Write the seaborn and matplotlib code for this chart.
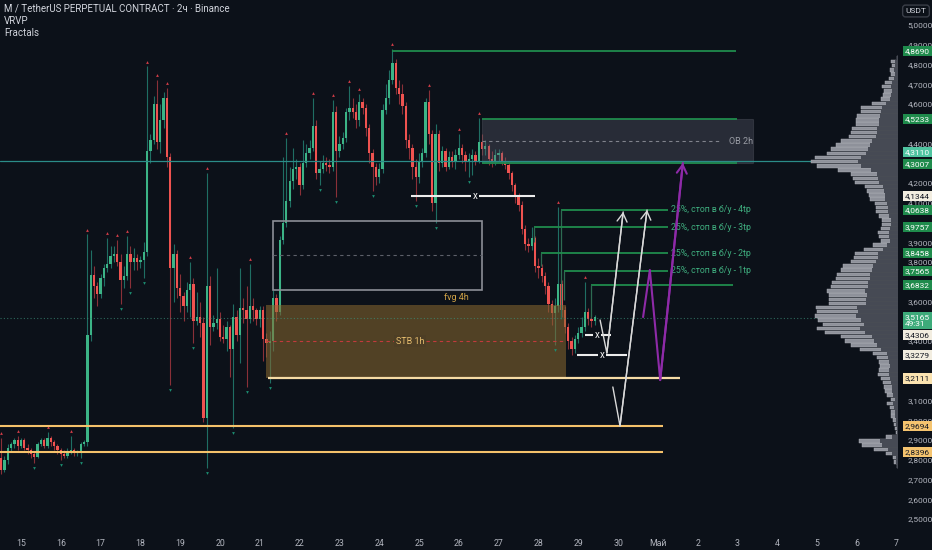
import numpy as np
import pandas as pd
import matplotlib
matplotlib.use("Agg")
import matplotlib.pyplot as plt
import matplotlib.transforms as mtransforms
from matplotlib.patches import Rectangle
import seaborn as sns

# ---- candles (2h bars, Apr 14 12:00 -> Apr 29 10:00) ----
start_day = 14.5
bars_per_day = 12
first_open = 2.81
closes = [2.75, 2.80, 2.86, 2.88, 2.90, 2.87, 2.90, 2.86, 2.85, 2.83, 2.815, 2.88,
          2.90, 2.87, 2.91, 2.89, 2.87, 2.85, 2.83, 2.82, 2.84, 2.85, 2.84, 2.84,
          2.88, 2.89, 3.43, 3.735, 3.68, 3.64, 3.72, 3.77, 3.79, 3.83, 3.84, 3.80,
          3.71, 3.73, 3.84, 3.80, 3.82, 3.80, 3.81, 3.85, 4.36, 4.42, 4.60, 4.41,
          4.52, 4.63, 4.33, 3.77, 3.84, 3.67, 3.63, 3.58, 3.66, 3.69, 3.50, 3.52,
          3.49, 3.01, 3.68, 3.47, 3.49, 3.51, 3.42, 3.41, 3.47, 3.36, 3.52, 3.43,
          3.57, 3.56, 3.51, 3.58, 3.56, 3.51, 3.56, 3.41, 3.39, 3.40, 3.62, 3.55,
          3.91, 4.00, 4.11, 4.21, 4.27, 4.28, 4.19, 4.30, 4.35, 4.38, 4.49, 4.25,
          4.27, 4.30, 4.29, 4.28, 4.56, 4.36, 4.40, 4.43, 4.56, 4.58, 4.56, 4.52,
          4.61, 4.58, 4.48, 4.35, 4.28, 4.23, 4.27, 4.57, 4.63, 4.72, 4.81, 4.68,
          4.65, 4.59, 4.42, 4.38, 4.28, 4.23, 4.31, 4.35, 4.61, 4.45, 4.10, 4.45,
          4.30, 4.36, 4.28, 4.33, 4.31, 4.34, 4.38, 4.34, 4.31, 4.32, 4.34, 4.31,
          4.41, 4.37, 4.39, 4.32, 4.31, 4.34, 4.35, 4.31, 4.29, 4.25, 4.19, 4.13,
          4.09, 3.97, 3.89, 3.88, 3.92, 3.78, 3.77, 3.73, 3.68, 3.59, 3.54, 3.58,
          3.69, 3.56, 3.47, 3.40, 3.36, 3.41, 3.44, 3.47, 3.55, 3.51, 3.50, 3.52]
highs = [2.91, 2.82, 2.88, 2.89, 2.91, 2.92, 2.91, 2.91, 2.88, 2.86, 2.84, 2.89,
         2.91, 2.91, 2.94, 2.92, 2.90, 2.88, 2.86, 2.85, 2.86, 2.92, 2.86, 2.85,
         2.89, 2.90, 3.94, 3.86, 3.78, 3.70, 3.74, 3.79, 3.92, 3.88, 3.88, 3.91,
         3.84, 3.78, 3.93, 3.88, 3.87, 3.84, 3.83, 3.90, 4.79, 4.45, 4.64, 4.72,
         4.60, 4.66, 4.68, 4.35, 3.89, 3.86, 3.74, 3.65, 3.70, 3.80, 3.72, 3.65,
         3.60, 3.52, 4.25, 3.73, 3.53, 3.77, 3.55, 3.48, 3.50, 3.48, 3.59, 3.56,
         3.77, 3.62, 3.68, 3.79, 3.62, 3.57, 3.58, 3.58, 3.44, 3.45, 3.66, 3.64,
         3.93, 4.33, 4.43, 4.28, 4.38, 4.32, 4.30, 4.42, 4.40, 4.42, 4.63, 4.52,
         4.31, 4.34, 4.33, 4.32, 4.62, 4.59, 4.44, 4.46, 4.58, 4.69, 4.63, 4.60,
         4.65, 4.63, 4.60, 4.50, 4.37, 4.30, 4.30, 4.60, 4.70, 4.77, 4.88, 4.83,
         4.72, 4.70, 4.61, 4.45, 4.40, 4.32, 4.35, 4.38, 4.63, 4.67, 4.47, 4.50,
         4.47, 4.39, 4.38, 4.36, 4.36, 4.37, 4.45, 4.40, 4.36, 4.35, 4.37, 4.36,
         4.53, 4.45, 4.42, 4.40, 4.36, 4.37, 4.37, 4.36, 4.33, 4.30, 4.26, 4.20,
         4.15, 4.11, 3.99, 3.92, 3.98, 3.93, 3.82, 3.79, 3.75, 3.70, 3.61, 3.62,
         4.08, 3.71, 3.58, 3.49, 3.42, 3.43, 3.47, 3.52, 3.70, 3.57, 3.54, 3.53]
lows = [2.73, 2.74, 2.78, 2.84, 2.86, 2.85, 2.86, 2.85, 2.83, 2.81, 2.785, 2.81,
        2.87, 2.86, 2.86, 2.87, 2.85, 2.83, 2.80, 2.81, 2.81, 2.83, 2.82, 2.82,
        2.81, 2.87, 2.87, 3.40, 3.62, 3.58, 3.62, 3.68, 3.75, 3.77, 3.80, 3.78,
        3.59, 3.67, 3.71, 3.67, 3.76, 3.76, 3.77, 3.72, 3.83, 4.30, 4.40, 4.37,
        4.35, 4.48, 4.28, 3.18, 3.60, 3.62, 3.55, 3.50, 3.55, 3.52, 3.39, 3.48,
        3.42, 2.99, 2.76, 3.38, 3.45, 3.46, 3.40, 3.39, 3.35, 3.22, 2.96, 3.40,
        3.29, 3.49, 3.17, 3.49, 3.50, 3.48, 3.47, 3.30, 3.32, 3.19, 3.35, 3.50,
        3.53, 3.89, 3.98, 4.08, 4.17, 4.22, 4.14, 4.17, 4.28, 4.32, 4.36, 4.22,
        4.19, 4.25, 4.26, 4.25, 4.26, 4.13, 4.33, 4.37, 4.41, 4.52, 4.53, 4.48,
        4.49, 4.55, 4.44, 4.30, 4.16, 4.19, 4.20, 4.25, 4.55, 4.60, 4.70, 4.65,
        4.60, 4.55, 4.38, 4.32, 4.22, 4.11, 4.20, 4.28, 4.33, 4.40, 4.06, 4.00,
        4.26, 4.28, 4.26, 4.27, 4.28, 4.27, 4.32, 4.30, 4.26, 4.23, 4.24, 4.29,
        4.30, 4.34, 4.34, 4.29, 4.28, 4.29, 4.31, 4.29, 4.27, 4.22, 4.16, 4.10,
        4.06, 3.94, 3.86, 3.85, 3.86, 3.75, 3.72, 3.70, 3.64, 3.55, 3.48, 3.38,
        3.55, 3.52, 3.44, 3.36, 3.33, 3.34, 3.39, 3.42, 3.45, 3.48, 3.47, 3.48]
fractal_up = [0, 5, 14, 21, 26, 32, 35, 38, 44, 47, 50, 57, 62, 75, 86, 94, 100,
              105, 108, 118, 129, 138, 144, 168, 176]
fractal_down = [10, 18, 24, 36, 39, 43, 51, 58, 62, 70, 74, 81, 96, 101, 112,
                125, 131, 141, 167]

# ---- volume profile (VRVP), rows from bottom to top ----
vp_bottom = 2.768
vp_step = 0.0211
vp_total = [1, 4, 5, 12, 24, 36, 39, 12, 2, 3,
            4, 5, 7, 7, 8, 11, 7, 11, 13, 14,
            15, 17, 20, 19, 18, 19, 21, 25, 38, 47,
            53, 57, 73, 81, 75, 80, 83, 81, 82, 69,
            69, 69, 71, 67, 66, 62, 61, 57, 55, 47,
            44, 43, 34, 25, 17, 19, 20, 17, 16, 16,
            19, 22, 22, 23, 28, 29, 31, 33, 43, 45,
            47, 60, 81, 87, 83, 71, 67, 62, 57, 49,
            47, 46, 42, 42, 41, 37, 37, 26, 17, 15,
            14, 16, 13, 9, 7, 8, 6, 7, 1]
vp_down = [1, 2, 2, 6, 10, 16, 18, 6, 1, 1,
           2, 2, 3, 3, 4, 5, 3, 5, 6, 6,
           7, 8, 9, 9, 8, 9, 10, 11, 17, 21,
           24, 26, 33, 38, 34, 37, 42, 40, 41, 32,
           32, 31, 33, 30, 30, 28, 28, 26, 25, 22,
           20, 20, 15, 11, 8, 9, 9, 8, 7, 7,
           9, 10, 10, 11, 13, 13, 14, 15, 19, 20,
           21, 27, 37, 40, 37, 32, 30, 28, 26, 22,
           21, 21, 19, 19, 18, 17, 16, 12, 8, 7,
           6, 7, 6, 4, 3, 4, 3, 3, 1]

# ---- drawings ----
tp_prices = [4.0638, 3.9757, 3.8458, 3.7565]
tp_start = [28.57, 27.89, 28.07, 28.64]
tp_stem_low = [3.51, 3.90, 3.78, 3.61]
tp_names = ["4tp", "3tp", "2tp", "1tp"]
tp_end = 31.26

white1_days = [29.55, 29.72, 30.13]
white1_prices = [3.507, 3.340, 4.054]
white2_days = [29.87, 30.05, 30.73]
white2_prices = [3.168, 2.971, 4.064]
purple_days = [30.63, 30.80, 31.06, 31.63]
purple_prices = [3.522, 3.760, 3.203, 4.302]

axis_labels = [(4.8690, "4,8690", "g"), (4.5233, "4,5233", "g"), (4.3570, "4,3110", "t"),
               (4.2970, "4,3007", "g"), (4.1344, "4,1344", "c"), (4.0638, "4,0638", "g"),
               (3.9757, "3,9757", "g"), (3.8458, "3,8458", "g"), (3.7565, "3,7565", "g"),
               (3.6832, "3,6832", "g"), (3.5050, "3,5165\n49:31", "p"), (3.4306, "3,4306", "c"),
               (3.3279, "3,3279", "c"), (3.2111, "3,2111", "o1"), (2.9694, "2,9694", "o2"),
               (2.8396, "2,8396", "o2")]

bg = "#0c1119"
up_col, dn_col = "#3cb486", "#ef5350"
up_wick, dn_wick = "#1f6e63", "#8a3038"
line_green = "#1f8b4c"
grey_txt = "#b2b5be"

sns.set_theme(style="dark", rc={"axes.facecolor": bg, "figure.facecolor": bg})
plt.rcParams["font.family"] = ["Roboto", "DejaVu Sans"]

df = pd.DataFrame({"close": closes, "high": highs, "low": lows})
df["open"] = [first_open] + closes[:-1]
df["day"] = start_day + np.arange(len(df)) / bars_per_day
rising = df["close"] >= df["open"]

fig = plt.figure(figsize=(9.32, 5.5), dpi=100)
ax = fig.add_axes([0, 0.04, 898 / 932, 0.96])
ax.set_xlim(14.472, 37.035)
ax.set_ylim(2.4544, 5.1265)
for s in ax.spines.values():
    s.set_visible(False)
ax.grid(False)

# volume profile on the right side
vp = ax.inset_axes([0.8886, 0, 0.1114, 1])
vp.set_xlim(100, 0)
vp.set_ylim(ax.get_ylim())
vp.axis("off")
vp.patch.set_alpha(0)
vp_prices = vp_bottom + vp_step * np.arange(len(vp_total))
vp.barh(vp_prices, vp_total, height=vp_step * 0.82, color="#8e919a", edgecolor="#b0b3ba", linewidth=0.3)
vp.barh(vp_prices, vp_down, height=vp_step * 0.82, color="#464a54", linewidth=0)

# candles
ax.vlines(df["day"], df["low"], df["high"], colors=np.where(rising, up_wick, dn_wick), linewidth=0.8, zorder=2)
body = (df["close"] - df["open"]).abs().clip(lower=0.006)
ax.bar(df["day"], body, bottom=df[["open", "close"]].min(axis=1), width=0.058,
       color=np.where(rising, up_col, dn_col), linewidth=0, zorder=2.2)

# fractals
fu = df.loc[fractal_up]
fd = df.loc[fractal_down]
sns.scatterplot(x=fu["day"], y=fu["high"] + 0.025, marker="^", s=4, color="#d43d48", linewidth=0, ax=ax, zorder=4)
sns.scatterplot(x=fd["day"], y=fd["low"] - 0.025, marker="v", s=4, color="#1c8f72", linewidth=0, ax=ax, zorder=4)

# full width lines
ax.axhline(4.3110, color="#2b8c88", lw=0.9, zorder=5)
ax.axhline(3.5165, color="#3a8f78", lw=0.8, ls=(0, (1, 2)), alpha=0.7, zorder=5)

# fvg 4h
ax.add_patch(Rectangle((21.33, 3.659), 26.58 - 21.33, 4.008 - 3.659, fill=False, ec="#8c8f96", lw=1.2, zorder=3))
ax.hlines(3.834, 21.33, 26.58, colors="#5d6069", lw=0.8, linestyles=(0, (3, 3)), zorder=3)
ax.text(25.95, 3.62, "fvg 4h", color="#d2a447", fontsize=6.5, ha="center", va="center", zorder=6)

# STB 1h
ax.add_patch(Rectangle((21.16, 3.2111), 28.69 - 21.16, 3.583 - 3.2111, fc="#8a6a30", ec="none", alpha=0.55, zorder=3))
ax.hlines(3.40, 21.16, 28.69, colors="#c23a3c", lw=0.8, linestyles=(0, (3, 3)), zorder=3.5)
ax.text(24.78, 3.40, "STB 1h", color="#e6bd6e", fontsize=6.5, ha="center", va="center", zorder=6,
        bbox=dict(boxstyle="square,pad=0.2", fc="#4d3e25", ec="none"))
ax.hlines(3.2111, 21.21, 31.56, colors="#f6dba5", lw=1.6, zorder=4)
ax.hlines([2.9694, 2.8396], 14.4, 31.13, colors="#f5c26b", lw=1.5, zorder=4)

# OB 2h
ax.add_patch(Rectangle((26.583, 4.3007), 33.392 - 26.583, 4.5233 - 4.3007, fc="#5d6170", ec="#5a5e68", lw=0.8, alpha=0.35, zorder=3))
ax.hlines([4.5233, 4.3007], 26.583, 32.99, colors=line_green, lw=1.3, zorder=4)
ax.hlines(4.412, 26.583, 32.55, colors="#80838c", lw=0.8, linestyles=(0, (3, 3)), zorder=4)
ax.text(33.09, 4.412, "OB 2h", color="#9a9da5", fontsize=6.5, ha="center", va="center", zorder=6)
ax.hlines(4.8690, 24.32, 32.96, colors=line_green, lw=1.3, zorder=4)

# take-profit levels
for p, t0, lo, name in zip(tp_prices, tp_start, tp_stem_low, tp_names):
    ax.hlines(p, t0, tp_end, colors=line_green, lw=1.3, zorder=4)
    ax.vlines(t0, lo, p, colors="#2d6b52", lw=0.9, zorder=4)
    ax.text(tp_end + 0.06, p, "25%, стоп в б/у - " + name, color="#3fae7f", fontsize=6.3,
            ha="left", va="center", zorder=6)
ax.hlines(3.6832, 29.32, 32.89, colors=line_green, lw=1.3, zorder=4)
ax.vlines(29.32, 3.52, 3.6832, colors="#2d6b52", lw=0.9, zorder=4)

# white fractal-level lines with x
for p, t0, t1, tx in [(4.1344, 24.80, 27.91, 26.41), (3.4306, 29.17, 29.82, 29.47), (3.3279, 28.97, 30.23, 29.60)]:
    ax.hlines(p, t0, t1, colors="#ececec", lw=1.5, zorder=5)
    ax.text(tx, p, "x", color="#f2f2f2", fontsize=7, ha="center", va="center", zorder=6,
            bbox=dict(boxstyle="square,pad=0.15", fc=bg, ec="none"))

# scenario arrows
for d, p, c, w in [(white1_days, white1_prices, "#d9d9d9", 1.0), (white2_days, white2_prices, "#d9d9d9", 1.0),
                   (purple_days, purple_prices, "#8e2aa8", 1.5)]:
    ax.plot(d, p, color=c, lw=w, zorder=6)
    ax.annotate("", xy=(d[-1], p[-1]), xytext=(d[-2], p[-2]), zorder=6,
                arrowprops=dict(arrowstyle="->,head_length=0.5,head_width=0.3", color=c, lw=w,
                                shrinkA=0, shrinkB=0, mutation_scale=12))

# price axis: ticks hidden where a value box sits on top of them
box_prices = np.array([a[0] for a in axis_labels])
yt = np.round(np.arange(2.5, 5.001, 0.1), 1)
ax.yaxis.tick_right()
ax.set_yticks(yt)
ax.set_yticklabels(["" if np.abs(box_prices - v).min() < 0.03 else f"{v:.4f}".replace(".", ",") for v in yt])
ax.tick_params(axis="y", length=0, pad=7, labelsize=6, labelcolor=grey_txt)
days = list(range(15, 38))
ax.set_xticks(days)
ax.set_xticklabels([str(d) if d <= 30 else ("Май" if d == 31 else str(d - 30)) for d in days])
ax.tick_params(axis="x", length=0, pad=8, labelsize=6.3, labelcolor=grey_txt)
ax.set_xlabel("")
ax.set_ylabel("")

box_styles = {"g": ("#1f8b4c", "white"), "t": ("#4fc4a0", "white"), "p": ("#3dab7a", "white"),
              "c": ("#f2ede0", "#131722"), "o1": ("#fbe3b0", "#131722"), "o2": ("#f5c46f", "#131722")}
tr = mtransforms.blended_transform_factory(ax.transAxes, ax.transData)
for p, txt, st in axis_labels:
    fc, tc = box_styles[st]
    ax.text(1.0075, p, txt, transform=tr, ha="left", va="center", fontsize=6, color=tc,
            linespacing=1.25, zorder=10, clip_on=False,
            bbox=dict(boxstyle="square,pad=0.25", fc=fc, ec="none"))

fig.text(916 / 932, 1 - 11 / 550, "USDT", ha="center", va="center", fontsize=6, color="#d1d4dc",
         bbox=dict(boxstyle="round,pad=0.35", fc=bg, ec="#3a3e48"))
fig.text(4 / 932, 1 - 8 / 550, "M / TetherUS PERPETUAL CONTRACT · 2ч · Binance", fontsize=7,
         color="#d1d4dc", va="center")
fig.text(4 / 932, 1 - 21 / 550, "VRVP", fontsize=7, color="#d1d4dc", va="center")
fig.text(4 / 932, 1 - 33 / 550, "Fractals", fontsize=7, color="#d1d4dc", va="center")

fig.savefig("out.png", dpi=100, facecolor=bg)
